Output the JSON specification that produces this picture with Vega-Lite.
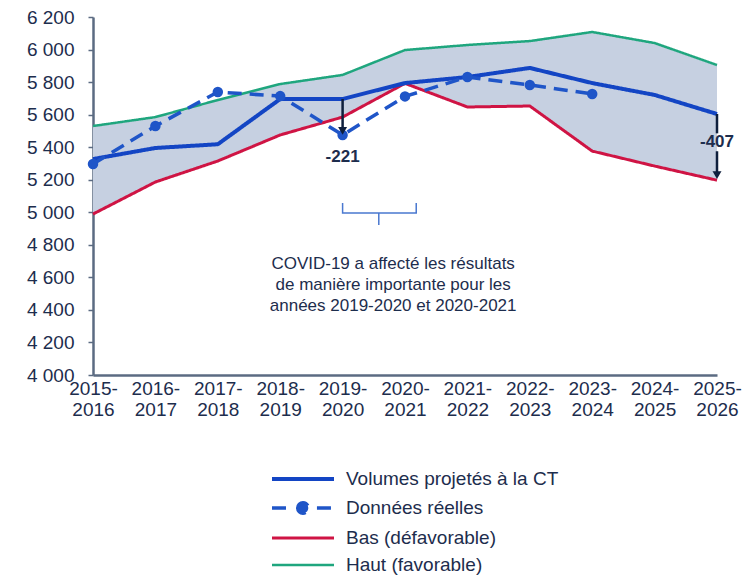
{
  "$schema": "https://vega.github.io/schema/vega-lite/v6.json",
  "width": 624,
  "height": 358,
  "autosize": "none",
  "padding": {"left": 93, "top": 17, "right": 33, "bottom": 200},
  "background": "white",
  "config": {
    "view": {"stroke": null},
    "font": "Liberation Sans",
    "axis": {"grid": false}
  },
  "datasets": {
    "main": [
      {"i": 0, "volumes": 5327, "reelles": 5297, "bas": 4989, "haut": 5530},
      {"i": 1, "volumes": 5395, "reelles": 5530, "bas": 5186, "haut": 5585},
      {"i": 2, "volumes": 5418, "reelles": 5739, "bas": 5315, "haut": 5690},
      {"i": 3, "volumes": 5696, "reelles": 5714, "bas": 5475, "haut": 5788},
      {"i": 4, "volumes": 5696, "reelles": 5475, "bas": 5585, "haut": 5844},
      {"i": 5, "volumes": 5794, "reelles": 5712, "bas": 5792, "haut": 5997},
      {"i": 6, "volumes": 5831, "reelles": 5831, "bas": 5647, "haut": 6028},
      {"i": 7, "volumes": 5887, "reelles": 5782, "bas": 5653, "haut": 6052},
      {"i": 8, "volumes": 5794, "reelles": 5727, "bas": 5376, "haut": 6108},
      {"i": 9, "volumes": 5721, "reelles": null, "bas": 5284, "haut": 6040},
      {"i": 10, "volumes": 5604, "reelles": null, "bas": 5197, "haut": 5905}
    ],
    "arrows": [
      {"i": 4, "y1": 5696, "y2": 5500},
      {"i": 10, "y1": 5604, "y2": 5485},
      {"i": 10, "y1": 5375, "y2": 5230}
    ],
    "heads": [
      {"i": 4, "y": 5500},
      {"i": 10, "y": 5228}
    ],
    "deltas": [
      {"i": 4, "y": 5340, "t": "-221"},
      {"i": 10, "y": 5430, "t": "-407"}
    ],
    "brace": [
      {"o": 1, "i": 4, "y": 5057},
      {"o": 2, "i": 4, "y": 4995},
      {"o": 3, "i": 4.58, "y": 4995},
      {"o": 4, "i": 4.58, "y": 4922},
      {"o": 5, "i": 4.58, "y": 4995},
      {"o": 6, "i": 5.18, "y": 4995},
      {"o": 7, "i": 5.18, "y": 5057}
    ],
    "note": [
      {"i": 4.81, "y": 4682, "t": "COVID-19 a affecté les résultats\nde manière importante pour les\nannées 2019-2020 et 2020-2021"}
    ]
  },
  "encoding": {
    "x": {
      "field": "i",
      "type": "quantitative",
      "scale": {"domain": [0, 10], "nice": false, "zero": false},
      "axis": {
        "title": null,
        "values": [0, 1, 2, 3, 4, 5, 6, 7, 8, 9, 10],
        "labelExpr": "[(2015 + datum.value) + '-', '' + (2016 + datum.value)]",
        "labelFontSize": 19,
        "labelColor": "#1d2d4d",
        "labelLineHeight": 21,
        "labelPadding": 4,
        "ticks": false,
        "domainColor": "#5b6b82",
        "domainWidth": 2.5,
        "labelFlush": false,
        "labelOverlap": false
      }
    },
    "y": {
      "type": "quantitative",
      "scale": {"domain": [4000, 6200], "nice": false, "zero": false},
      "axis": {
        "title": null,
        "values": [4000, 4200, 4400, 4600, 4800, 5000, 5200, 5400, 5600, 5800, 6000, 6200],
        "labelExpr": "replace(format(datum.value, ','), ',', ' ')",
        "labelFontSize": 19,
        "labelColor": "#1d2d4d",
        "labelPadding": 14,
        "labelOverlap": false,
        "labelSeparation": -30,
        "labelFlush": false,
        "labelBound": false,
        "tickSize": 5,
        "tickColor": "#5b6b82",
        "tickWidth": 1.5,
        "domainColor": "#5b6b82",
        "domainWidth": 2.5
      }
    }
  },
  "layer": [
    {
      "data": {"name": "main"},
      "mark": {"type": "area", "color": "#c6d0e1", "opacity": 1},
      "encoding": {
        "y": {"field": "bas"},
        "y2": {"field": "haut"}
      }
    },
    {
      "data": {"name": "main"},
      "transform": [
        {"fold": ["bas", "haut", "volumes", "reelles"], "as": ["serie", "v"]},
        {"filter": "datum.v != null"}
      ],
      "mark": {"type": "line", "strokeJoin": "round"},
      "encoding": {
        "y": {"field": "v"},
        "color": {
          "field": "serie",
          "type": "nominal",
          "scale": {
            "domain": ["volumes", "reelles", "bas", "haut"],
            "range": ["#1345c4", "#1f55c8", "#cf1444", "#1fa67e"]
          },
          "legend": {
            "title": null,
            "orient": "none",
            "legendX": 177,
            "legendY": 451,
            "direction": "vertical",
            "symbolType": "stroke",
            "symbolSize": 3844,
            "labelFontSize": 19,
            "labelColor": "#1d2d4d",
            "labelOffset": 10,
            "labelLimit": 400,
            "rowPadding": 6,
            "labelExpr": "{'volumes': 'Volumes projetés à la CT', 'reelles': 'Données réelles', 'bas': 'Bas (défavorable)', 'haut': 'Haut (favorable)'}[datum.value]",
            "encode": {
              "symbols": {
                "update": {
                  "y": {"value": 11},
                  "shape": {"signal": "datum.value === 'reelles' ? 'M-1,0H-0.3M0.45,0H1M-0.17,0A0.17,0.17 0 1 1 0.17,0A0.17,0.17 0 1 1 -0.17,0Z' : 'stroke'"},
                  "fill": {"signal": "datum.value === 'reelles' ? '#1f55c8' : 'transparent'"},
                  "strokeWidth": {"signal": "datum.value === 'volumes' ? 4 : 2.5"},
                  "strokeDash": {"value": [1, 0]}
                }
              },
              "labels": {
                "update": {
                  "y": {"value": 11},
                  "baseline": {"value": "middle"}
                }
              }
            }
          }
        },
        "strokeDash": {
          "field": "serie",
          "type": "nominal",
          "scale": {
            "domain": ["volumes", "reelles", "bas", "haut"],
            "range": [[1, 0], [14, 8], [1, 0], [1, 0]]
          },
          "legend": null
        },
        "strokeWidth": {
          "field": "serie",
          "type": "nominal",
          "scale": {
            "domain": ["volumes", "reelles", "bas", "haut"],
            "range": [4, 2.5, 2, 2]
          },
          "legend": null
        }
      }
    },
    {
      "data": {"name": "main"},
      "transform": [{"filter": "datum.reelles != null"}],
      "mark": {"type": "circle", "size": 110, "color": "#1f55c8", "opacity": 1},
      "encoding": {
        "y": {"field": "reelles"}
      }
    },
    {
      "data": {"name": "arrows"},
      "mark": {"type": "rule", "color": "#0e1f3d", "strokeWidth": 2.5},
      "encoding": {
        "y": {"field": "y1"},
        "y2": {"field": "y2"}
      }
    },
    {
      "data": {"name": "heads"},
      "mark": {"type": "point", "shape": "triangle-down", "filled": true, "color": "#0e1f3d", "size": 80, "opacity": 1},
      "encoding": {
        "y": {"field": "y"}
      }
    },
    {
      "data": {"name": "deltas"},
      "mark": {"type": "text", "fontSize": 17, "fontWeight": "bold", "color": "#1d2d4d", "align": "center", "baseline": "middle"},
      "encoding": {
        "y": {"field": "y"},
        "text": {"field": "t"}
      }
    },
    {
      "data": {"name": "brace"},
      "mark": {"type": "line", "color": "#4a78d0", "strokeWidth": 1.5},
      "encoding": {
        "y": {"field": "y"},
        "order": {"field": "o"}
      }
    },
    {
      "data": {"name": "note"},
      "mark": {"type": "text", "fontSize": 17, "color": "#1d2d4d", "align": "center", "baseline": "middle", "lineBreak": "\n", "lineHeight": 21},
      "encoding": {
        "y": {"field": "y"},
        "text": {"field": "t"}
      }
    }
  ]
}
